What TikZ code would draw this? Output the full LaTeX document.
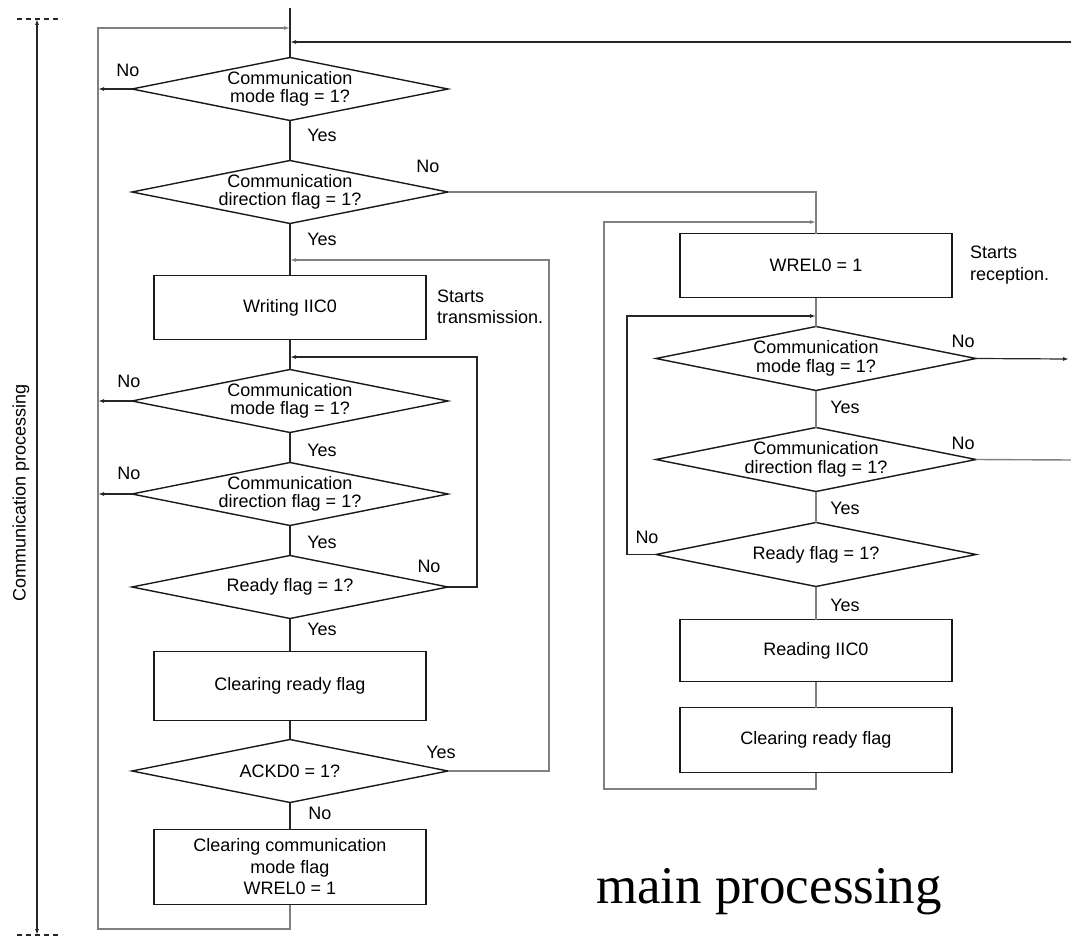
\documentclass[tikz,border=0pt]{standalone}
\usepackage{fontspec}
\setmainfont{Liberation Sans}
\newfontfamily\capfont{Liberation Serif}
\usetikzlibrary{arrows.meta}
\usetikzlibrary{positioning}
\usetikzlibrary{shapes.geometric}

\begin{document}
\begin{tikzpicture}
[
	x = 1pt, y = -1pt,
	decision/.style = {diamond, draw = black!90, line width = 1.4pt, minimum width = 316pt, minimum height = 63pt, inner sep = 0pt, outer sep = 0pt},
	process/.style = {rectangle, draw = black!90, line width = 1.4pt, minimum width = 272pt, minimum height = 64pt, inner sep = 0pt, outer sep = 0pt, align = center, font = \fontsize{18}{21.5}\selectfont},
	txt/.style = {align = center, inner sep = 0pt, font = \fontsize{18}{18.5}\selectfont},
	note/.style = {align = left, inner sep = 0pt, anchor = west, font = \fontsize{18}{21.5}\selectfont},
	lbl/.style = {inner sep = 0pt, font = \fontsize{18}{18.5}\selectfont},
	flow/.style = {draw = black!85, line width = 1.2pt},
	loop/.style = {draw = black!50, line width = 1.4pt},
	into/.style = {-{Latex[length = 6pt, width = 4pt]}},
	tick/.style = {draw = black!85, line width = 1.2pt, dash pattern = on 5pt off 4pt},
]
	\useasboundingbox (0,0) rectangle (1071,939);

	% transmission side
	\node (D1) [decision] at (290,89) {};
	\node (D2) [decision, below = 40pt of D1] {};
	\node (write) [process, below = 52pt of D2] {Writing IIC0};
	\node (D3) [decision, below = 30pt of write] {};
	\node (D4) [decision, below = 30pt of D3] {};
	\node (D5) [decision, below = 30pt of D4] {};
	\node (clrrdy) [process, minimum height = 69pt, below = 33pt of D5] {Clearing ready flag};
	\node (D6) [decision, below = 19pt of clrrdy] {};
	\node (clrmode) [process, minimum height = 75pt, below = 27pt of D6] {Clearing communication\\mode flag\\WREL0 = 1};
	%
	\node (D1t) [txt] at (D1) {Communication\\mode flag = 1?};
	\node (D2t) [txt] at (D2) {Communication\\direction flag = 1?};
	\node (D3t) [txt] at (D3) {Communication\\mode flag = 1?};
	\node (D4t) [txt] at (D4) {Communication\\direction flag = 1?};
	\node (D5t) [txt] at (D5) {Ready flag = 1?};
	\node (D6t) [txt] at (D6) {ACKD0 = 1?};

	% reception side
	\node (wrel) [process] at (816,265.5) {WREL0 = 1};
	\node (D7) [decision, minimum width = 320pt, minimum height = 64pt, below = 29pt of wrel] {};
	\node (D8) [decision, minimum width = 320pt, minimum height = 64pt, below = 37pt of D7] {};
	\node (D9) [decision, minimum width = 320pt, minimum height = 64pt, below = 31pt of D8] {};
	\node (read) [process, minimum height = 62pt, below = 33pt of D9] {Reading IIC0};
	\node (clrrdy2) [process, minimum height = 65pt, below = 26pt of read] {Clearing ready flag};
	%
	\node (D7t) [txt] at (D7) {Communication\\mode flag = 1?};
	\node (D8t) [txt] at (D8) {Communication\\direction flag = 1?};
	\node (D9t) [txt] at (D9) {Ready flag = 1?};

	% notes
	\node (sttx) [note] at (437,307) {Starts\\transmission.};
	\node (strx) [note] at (970,265) {Starts\\reception.};

	% junctions
	\coordinate (top) at (290,8);
	\coordinate (jA) at (290,28);
	\coordinate (jB) at (290,42);
	\coordinate (retR) at (1071,42);
	\coordinate (jC) at (290,260);
	\coordinate (jD) at (290,357);
	\coordinate (jE) at (816,222);
	\coordinate (jF) at (816,316);
	\coordinate (loopL) at (98,929);
	\coordinate (loopR) at (604,789);
	\coordinate (outM) at (1069,359);
	\coordinate (outD) at (1071,460);

	% paths -- transmission
	\draw [flow] (top) -- (D1.north);
	\draw [flow, into] (retR) -- (jB);
	\draw [flow, into] (D1.west) -- (D1.west -| loopL);
	\draw [flow] (D1.south) -- (D2.north);
	\draw [loop] (D2.east) -| (wrel.north);
	\draw [flow] (D2.south) -- (write.north);
	\draw [flow] (write.south) -- (D3.north);
	\draw [flow, into] (D3.west) -- (D3.west -| loopL);
	\draw [flow] (D3.south) -- (D4.north);
	\draw [flow, into] (D4.west) -- (D4.west -| loopL);
	\draw [flow] (D4.south) -- (D5.north);
	\draw [flow, into] (D5.east) -- ++(29,0) |- (jD);
	\draw [flow] (D5.south) -- (clrrdy.north);
	\draw [flow] (clrrdy.south) -- (D6.north);
	\draw [loop, into] (D6.east) -- ++(101,0) |- (jC);
	\draw [flow] (D6.south) -- (clrmode.north);
	\draw [loop, into] (clrmode.south) |- (loopL) |- (jA);

	% paths -- reception
	\draw [loop] (wrel.south) -- (D7.north);
	\draw [flow, into] (D7.east) -- (outM);
	\draw [loop] (D7.south) -- (D8.north);
	\draw [loop] (D8.east) -- (outD);
	\draw [loop] (D8.south) -- (D9.north);
	\draw [flow, into] (D9.west) -- ++(-29,0) |- (jF);
	\draw [loop] (D9.south) -- (read.north);
	\draw [loop] (read.south) -- (clrrdy2.north);
	\draw [loop, into] (clrrdy2.south) |- (loopR) |- (jE);

	% branch labels
	\node (n1) [lbl] at (128,70) {No};
	\node (y1) [lbl] at (322,135) {Yes};
	\node (n2) [lbl] at (428,166) {No};
	\node (y2) [lbl] at (322,239) {Yes};
	\node (n3) [lbl] at (129,381) {No};
	\node (y3) [lbl] at (322,450) {Yes};
	\node (n4) [lbl] at (129,473) {No};
	\node (y4) [lbl] at (322,542) {Yes};
	\node (n5) [lbl] at (429,566) {No};
	\node (y5) [lbl] at (322,629) {Yes};
	\node (y6) [lbl] at (441,752) {Yes};
	\node (n6) [lbl] at (320,813) {No};
	\node (n7) [lbl] at (963,341) {No};
	\node (y7) [lbl] at (845,407) {Yes};
	\node (n8) [lbl] at (963,443) {No};
	\node (y8) [lbl] at (845,508) {Yes};
	\node (n9) [lbl] at (647,537) {No};
	\node (y9) [lbl] at (845,605) {Yes};

	% span of communication processing
	\coordinate (spanT) at (37,19);
	\coordinate (spanB) at (37,935);
	\draw [flow, {Latex[length = 6pt, width = 4pt]}-{Latex[length = 6pt, width = 4pt]}] (spanT) -- (spanB);
	\draw [tick] ([xshift = -20pt]spanT) -- ([xshift = 25pt]spanT);
	\draw [tick] ([xshift = -20pt]spanB) -- ([xshift = 25pt]spanB);
	\node (span) [lbl, rotate = 90] at (21,493) {Communication processing};

	% caption
	\node (cap) [anchor = base, inner sep = 0pt, font = \capfont\fontsize{53}{60}\selectfont] at (769,903) {main processing};

\end{tikzpicture}
\end{document}
